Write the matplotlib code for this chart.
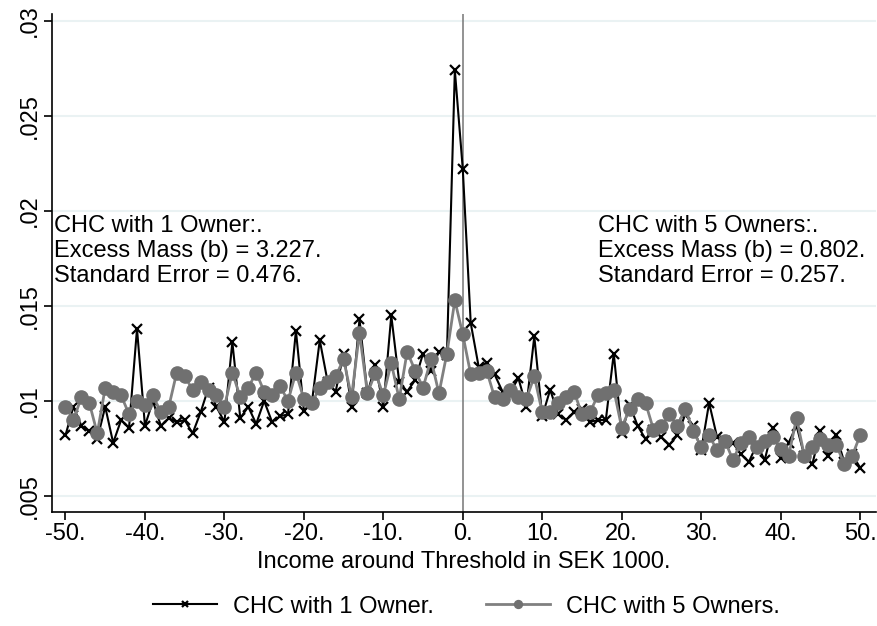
import numpy as np
import matplotlib
matplotlib.use("Agg")
import matplotlib.pyplot as plt

plt.rcParams['font.family'] = ['Liberation Sans', 'DejaVu Sans']

income = np.arange(-50, 51)

one_owner = [
    .0082, .0097, .0087, .0084, .0080, .0097, .0078, .0090, .0086, .0138,
    .0087, .0100, .0087, .0091, .0089, .0090, .0083, .0094, .0107, .0097,
    .0089, .0131, .0091, .0097, .0088, .0100, .0089, .0092, .0093, .0137,
    .0095, .0099, .0132, .0110, .0105, .0125, .0097, .0143, .0104, .0119,
    .0097, .0145, .0110, .0105, .0111, .0125, .0116, .0126, .0124, .0274,
    .0222,
    .0141, .0118, .0120, .0114, .0105, .0105, .0112, .0097, .0134, .0092,
    .0106, .0093, .0090, .0094, .0096, .0089, .0090, .0090, .0125, .0083,
    .0098, .0087, .0080, .0085, .0081, .0077, .0082, .0093, .0087, .0074,
    .0099, .0081, .0079, .0078, .0072, .0068, .0077, .0069, .0086, .0070,
    .0078, .0087, .0071, .0067, .0084, .0071, .0082, .0068, .0072, .0065,
]

five_owners = [
    .0097, .0090, .0102, .0099, .0083, .0107, .0105, .0103, .0093, .0100,
    .0098, .0103, .0094, .0097, .0115, .0113, .0106, .0110, .0106, .0103,
    .0097, .0115, .0102, .0107, .0115, .0105, .0103, .0108, .0100, .0115,
    .0101, .0099, .0107, .0110, .0113, .0122, .0102, .0136, .0104, .0115,
    .0103, .0120, .0101, .0126, .0116, .0107, .0122, .0104, .0125, .0153,
    .0135,
    .0114, .0115, .0116, .0102, .0101, .0106, .0102, .0101, .0113, .0094,
    .0094, .0099, .0102, .0105, .0093, .0094, .0103, .0104, .0106, .0086,
    .0096, .0101, .0099, .0085, .0087, .0093, .0087, .0096, .0084, .0076,
    .0082, .0074, .0079, .0069, .0078, .0081, .0076, .0079, .0081, .0075,
    .0071, .0091, .0071, .0076, .0080, .0077, .0077, .0067, .0071, .0082,
]

xticks = [-50, -40, -30, -20, -10, 0, 10, 20, 30, 40, 50]
yticks = [.005, .01, .015, .02, .025, .03]
ylabels = ['.005', '.01', '.015', '.02', '.025', '.03']

left_note = ["CHC with 1 Owner:.", "Excess Mass (b) = 3.227.", "Standard Error = 0.476."]
right_note = ["CHC with 5 Owners:.", "Excess Mass (b) = 0.802.", "Standard Error = 0.257."]

fs = 17

fig = plt.figure(figsize=(8.78, 6.26), dpi=100)
ax = fig.add_axes([0.0592, 0.182, 0.9385, 0.796])

for y in yticks:
    ax.axhline(y, color='#eaf2f3', lw=1.5, zorder=0)
ax.axvline(0, color='#808080', lw=1.2, zorder=1)

ax.plot(income, one_owner, color='black', lw=1.5, marker='x', ms=6.5, mew=1.6,
        label='CHC with 1 Owner.', zorder=2)
ax.plot(income, five_owners, color='#808080', lw=2, marker='o', ms=9.5,
        mfc='#707070', mec='#707070', label='CHC with 5 Owners.', zorder=3)

ax.set_xlim(-51.7, 52)
ax.set_ylim(.00416, .03037)
ax.set_xticks(xticks)
ax.set_xticklabels([f"{t}." for t in xticks], fontsize=fs)
ax.set_yticks(yticks)
ax.set_yticklabels(ylabels, fontsize=fs, rotation=90, va='center')
ax.tick_params(length=6, width=1.2, direction='out', pad=2)
for s in ['top', 'right']:
    ax.spines[s].set_visible(False)
for s in ['left', 'bottom']:
    ax.spines[s].set_linewidth(1.2)

ax.set_xlabel('Income around Threshold in SEK 1000.', fontsize=fs, labelpad=4)

for i, line in enumerate(left_note):
    ax.text(-51.4, .0192 - i * .00131, line, fontsize=fs, va='center', ha='left')
for i, line in enumerate(right_note):
    ax.text(17.0, .0192 - i * .00131, line, fontsize=fs, va='center', ha='left')

ax.legend(loc='center', bbox_to_anchor=(0.503, -0.19), ncol=2, frameon=False,
          fontsize=fs, handlelength=2.7, handletextpad=0.7, columnspacing=2.2,
          markerscale=0.6)

fig.savefig('out.png', dpi=100)
